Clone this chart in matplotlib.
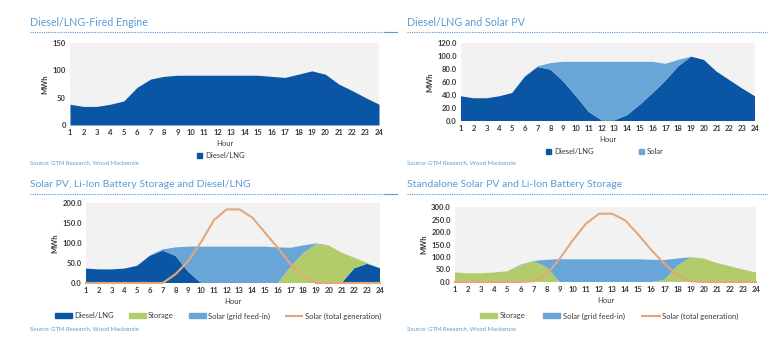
import matplotlib
matplotlib.use("Agg")
import matplotlib.pyplot as plt
from matplotlib.patches import Patch
from matplotlib.lines import Line2D

plt.rcParams['font.family'] = ['Lato', 'DejaVu Sans']

hours = list(range(1, 25))

# Chart 1: Diesel/LNG-Fired Engine
c1_diesel = [38, 34, 34, 38, 44, 69, 84, 89, 91, 91, 91, 91, 91, 91, 91, 89, 87, 93, 99, 93, 75, 63, 50, 38]

# Chart 2: Diesel/LNG and Solar PV
c2_diesel = [38, 35, 35, 38, 43, 68, 83, 79, 61, 38, 14, 1, 1, 9, 25, 43, 62, 84, 99, 94, 76, 63, 50, 38]
c2_solar = [0, 0, 0, 0, 0, 1, 1, 10, 30, 53, 77, 90, 90, 82, 66, 48, 26, 10, 0, 0, 0, 0, 0, 0]

# Chart 3: Solar PV, Li-Ion Battery Storage and Diesel/LNG
c3_diesel = [36, 34, 34, 36, 43, 68, 81, 68, 28, 0, 0, 0, 0, 0, 0, 0, 0, 0, 0, 0, 0, 37, 48, 37]
c3_storage = [0, 0, 0, 0, 0, 0, 0, 0, 0, 0, 0, 0, 0, 0, 0, 0, 40, 75, 97, 94, 76, 26, 2, 0]
c3_solar_grid = [0, 0, 0, 0, 0, 1, 3, 21, 63, 91, 91, 91, 91, 91, 91, 89, 48, 19, 2, 0, 0, 0, 0, 0]
c3_solar_total = [0, 0, 0, 0, 0, 0, 0, 22, 55, 102, 157, 184, 184, 164, 126, 88, 47, 17, 0, 0, 0, 0, 0, 0]

# Chart 4: Standalone Solar PV and Li-Ion Battery Storage
c4_storage = [38, 35, 35, 38, 43, 67, 83, 60, 0, 0, 0, 0, 0, 0, 0, 0, 8, 65, 99, 94, 76, 63, 50, 38]
c4_solar_grid = [0, 0, 0, 0, 0, 2, 1, 29, 91, 91, 91, 91, 91, 91, 91, 89, 80, 29, 0, 0, 0, 0, 0, 0]
c4_solar_total = [0, 0, 0, 0, 0, 0, 3, 30, 93, 167, 233, 273, 273, 247, 190, 128, 73, 27, 3, 0, 0, 0, 0, 0]

titles = ["Diesel/LNG-Fired Engine", "Diesel/LNG and Solar PV",
          "Solar PV, Li-Ion Battery Storage and Diesel/LNG",
          "Standalone Solar PV and Li-Ion Battery Storage"]
source = "Source: GTM Research, Wood Mackenzie"

C_DIESEL = "#0B56A4"
C_SOLAR = "#6AA5D8"
C_STORAGE = "#B2CC6C"
C_LINE = "#E3A77B"
C_BG = "#F2F2F2"
C_TITLE = "#5B9BD5"
C_TXT = "#3A3A3A"

W, H = 768, 340
fig = plt.figure(figsize=(W / 100, H / 100), dpi=100)


def add_ax(l, r, t, b):
    return fig.add_axes([l / W, 1 - b / H, (r - l) / W, (b - t) / H])


def style(ax, ymax, step, fmt):
    ax.set_facecolor(C_BG)
    ax.set_xlim(1, 24)
    ax.set_ylim(0, ymax)
    ax.set_xticks(hours)
    ax.set_xticklabels([str(h) for h in hours])
    yt = list(range(0, ymax + 1, step))
    ax.set_yticks(yt)
    ax.set_yticklabels([fmt.format(v) for v in yt])
    for s in ax.spines.values():
        s.set_visible(False)
    ax.tick_params(length=0, labelsize=5.5, colors=C_TXT, pad=3)
    for lab in ax.get_xticklabels() + ax.get_yticklabels():
        lab.set_fontweight('bold')
    ax.set_xlabel("Hour", fontsize=5.5, color=C_TXT, labelpad=3)
    ax.set_ylabel("MWh", fontsize=5.5, color=C_TXT, fontweight='bold', labelpad=3)


def header(x0, x1, y, title, size):
    fig.text(x0 / W, 1 - y / H, title, fontsize=size, color=C_TITLE, va='center', ha='left')
    ly = 1 - (y + 9) / H
    fig.add_artist(Line2D([x0 / W, x1 / W], [ly, ly], color=C_TITLE, lw=0.8,
                          linestyle=(0, (1, 1)), transform=fig.transFigure))


def src(x, y):
    fig.text(x / W, 1 - y / H, source, fontsize=4.3, color=C_TITLE, va='center', ha='left')


leg_kw = dict(bbox_transform=fig.transFigure, frameon=False, fontsize=5.5,
              labelcolor=C_TXT, loc='center')

# Panel 1
ax1 = add_ax(70, 379, 43, 125)
ax1.fill_between(hours, 0, c1_diesel, color=C_DIESEL, lw=0)
style(ax1, 150, 50, "{:d}")
header(30, 384, 23, titles[0], 7.7)
fig.add_artist(Line2D([384 / W, 397 / W], [1 - 32 / H] * 2, color=C_TITLE, lw=0.8,
                      transform=fig.transFigure))
ax1.legend(handles=[Patch(color=C_DIESEL, label="Diesel/LNG")],
           bbox_to_anchor=(221 / W, 1 - 156 / H), handlelength=0.6, handleheight=0.6,
           handletextpad=0.4, **leg_kw)
src(30, 163)

# Panel 2
ax2 = add_ax(461, 755, 43, 121)
ax2.stackplot(hours, c2_diesel, c2_solar, colors=[C_DIESEL, C_SOLAR], lw=0)
style(ax2, 120, 20, "{:.1f}")
header(407, 768, 23, titles[1], 7.7)
ax2.legend(handles=[Patch(color=C_DIESEL, label="Diesel/LNG"),
                    Patch(color=C_SOLAR, label="Solar")],
           bbox_to_anchor=(605 / W, 1 - 152 / H), ncol=2, handlelength=0.6,
           handleheight=0.6, handletextpad=0.4, columnspacing=6, **leg_kw)
src(407, 163)

# Panel 3
ax3 = add_ax(86, 380, 203, 283)
ax3.stackplot(hours, c3_diesel, c3_storage, c3_solar_grid,
              colors=[C_DIESEL, C_STORAGE, C_SOLAR], lw=0)
ax3.plot(hours, c3_solar_total, color=C_LINE, lw=1.5, clip_on=False)
style(ax3, 200, 50, "{:.1f}")
header(30, 384, 185, titles[2], 7.5)
fig.add_artist(Line2D([384 / W, 397 / W], [1 - 194 / H] * 2, color=C_TITLE, lw=0.8,
                      transform=fig.transFigure))
ax3.legend(handles=[Patch(color=C_DIESEL, label="Diesel/LNG"),
                    Patch(color=C_STORAGE, label="Storage"),
                    Patch(color=C_SOLAR, label="Solar (grid feed-in)"),
                    Line2D([], [], color=C_LINE, lw=1.5, label="Solar (total generation)")],
           bbox_to_anchor=(218 / W, 1 - 316 / H), ncol=4, handlelength=2.2,
           handleheight=0.6, handletextpad=0.3, columnspacing=2.0, **leg_kw)
src(30, 329)

# Panel 4
ax4 = add_ax(455, 756, 207, 282)
ax4.stackplot(hours, c4_storage, c4_solar_grid, colors=[C_STORAGE, C_SOLAR], lw=0)
ax4.plot(hours, c4_solar_total, color=C_LINE, lw=1.5, clip_on=False)
style(ax4, 300, 50, "{:.1f}")
header(407, 768, 185, titles[3], 7.5)
ax4.legend(handles=[Patch(color=C_STORAGE, label="Storage"),
                    Patch(color=C_SOLAR, label="Solar (grid feed-in)"),
                    Line2D([], [], color=C_LINE, lw=1.5, label="Solar (total generation)")],
           bbox_to_anchor=(609 / W, 1 - 316 / H), ncol=3, handlelength=2.3,
           handleheight=0.6, handletextpad=0.3, columnspacing=2.3, **leg_kw)
src(407, 329)

fig.savefig("out.png", dpi=100, facecolor="white")
